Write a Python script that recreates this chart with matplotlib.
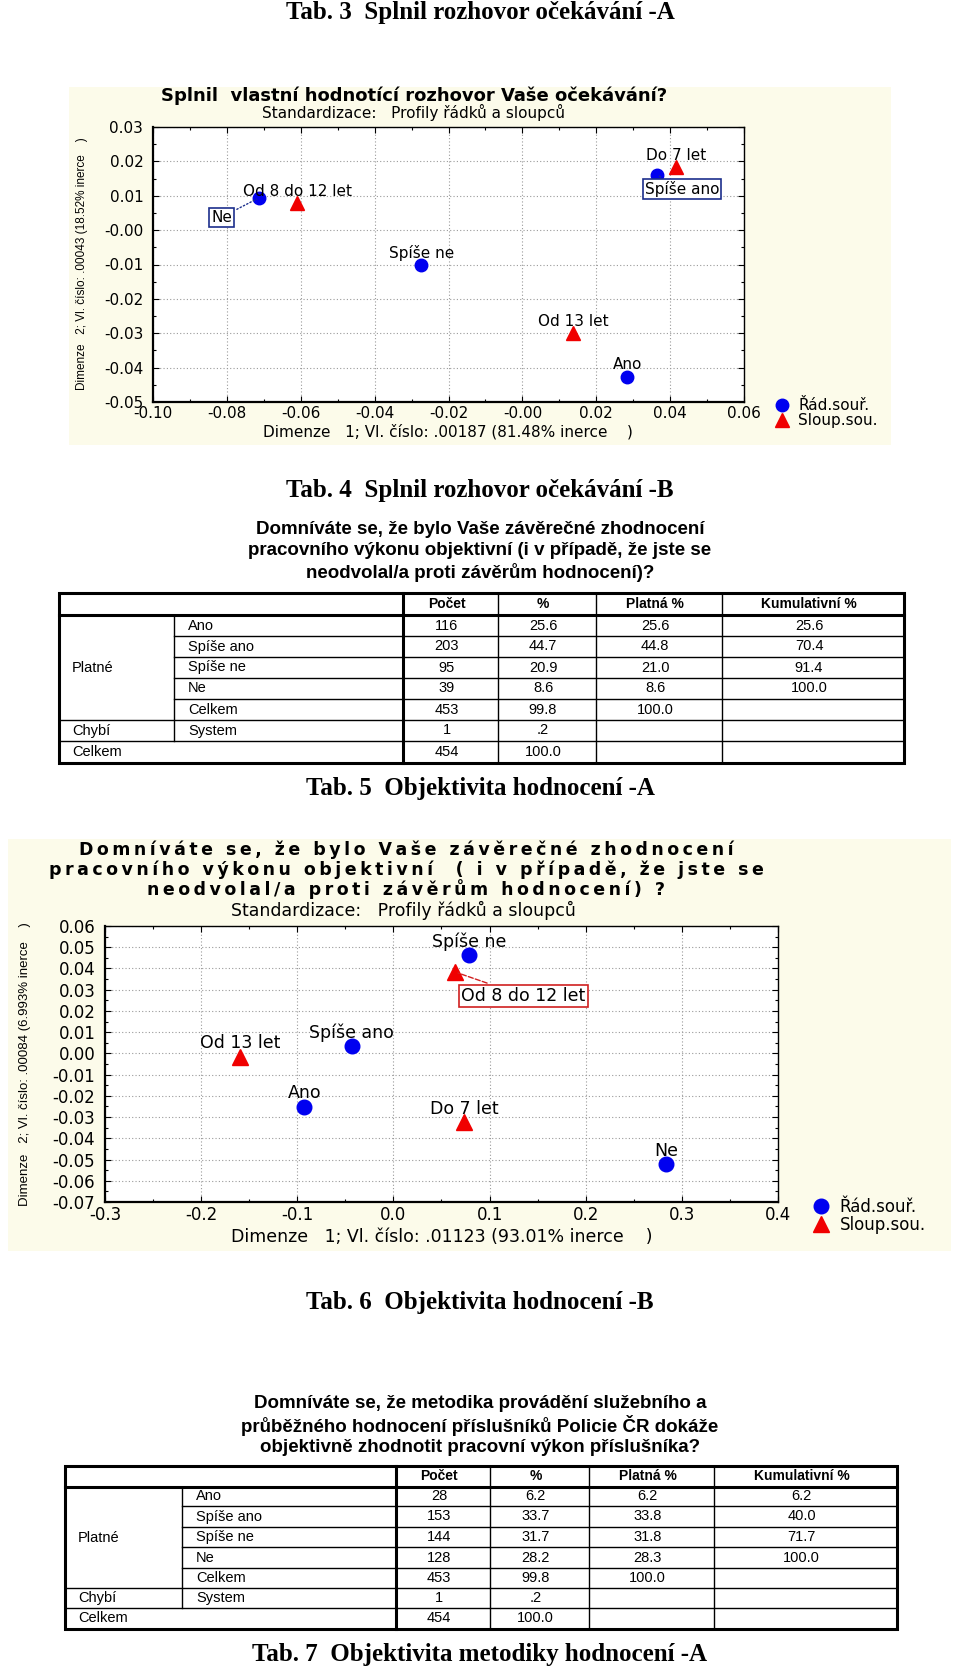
import matplotlib
matplotlib.use('Agg')
import matplotlib.pyplot as plt
from matplotlib.patches import Rectangle
from matplotlib.ticker import MultipleLocator, AutoMinorLocator, FormatStrFormatter

plt.rcParams['axes.unicode_minus'] = False
plt.rcParams['font.family'] = ['DejaVu Sans']

W, H = 960, 1672

# --- chart 1 (Tab. 3): korespondencni analyza ---
rows1 = ['Ano', 'Spíše ano', 'Spíše ne', 'Ne']
rows1_x = [0.0284, 0.0364, -0.0274, -0.0713]
rows1_y = [-0.0426, 0.0161, -0.0101, 0.0094]
cols1 = ['Do 7 let', 'Od 8 do 12 let', 'Od 13 let']
cols1_x = [0.0415, -0.0609, 0.0138]
cols1_y = [0.0184, 0.0079, -0.0300]

# --- chart 2 (Tab. 5) ---
rows2 = ['Ano', 'Spíše ano', 'Spíše ne', 'Ne']
rows2_x = [-0.0926, -0.0435, 0.0784, 0.2839]
rows2_y = [-0.0251, 0.0036, 0.0463, -0.0523]
cols2 = ['Do 7 let', 'Od 8 do 12 let', 'Od 13 let']
cols2_x = [0.0733, 0.0644, -0.1596]
cols2_y = [-0.0323, 0.0383, -0.0015]

# --- tables ---
tab_head = ['Počet', '%', 'Platná %', 'Kumulativní %']
row_names = ['Ano', 'Spíše ano', 'Spíše ne', 'Ne', 'Celkem', 'System']
t1_data = [['116', '25.6', '25.6', '25.6'],
           ['203', '44.7', '44.8', '70.4'],
           ['95', '20.9', '21.0', '91.4'],
           ['39', '8.6', '8.6', '100.0'],
           ['453', '99.8', '100.0', ''],
           ['1', '.2', '', ''],
           ['454', '100.0', '', '']]
t2_data = [['28', '6.2', '6.2', '6.2'],
           ['153', '33.7', '33.8', '40.0'],
           ['144', '31.7', '31.8', '71.7'],
           ['128', '28.2', '28.3', '100.0'],
           ['453', '99.8', '100.0', ''],
           ['1', '.2', '', ''],
           ['454', '100.0', '', '']]

q1 = ['Domníváte se, že bylo Vaše závěrečné zhodnocení',
      'pracovního výkonu objektivní (i v případě, že jste se',
      'neodvolal/a proti závěrům hodnocení)?']
q2 = ['Domníváte se, že metodika provádění služebního a',
      'průběžného hodnocení příslušníků Policie ČR dokáže',
      'objektivně zhodnotit pracovní výkon příslušníka?']

PANEL = '#fcfbea'
BLUE = '#0000f0'
RED = '#f00000'


def box(l, t, r, b):
    return [l / W, 1 - b / H, (r - l) / W, (b - t) / H]


fig = plt.figure(figsize=(9.6, 16.72), dpi=100)
page = fig.add_axes([0, 0, 1, 1], zorder=0)
page.set_xlim(0, W)
page.set_ylim(H, 0)
page.axis('off')

serif = dict(family='Liberation Serif', weight='bold', fontsize=18, ha='center', va='center')
arial = ['Liberation Sans', 'DejaVu Sans']
narrow = ['Liberation Sans Narrow', 'Liberation Sans', 'DejaVu Sans']

page.text(480, 13, 'Tab. 3  Splnil rozhovor očekávání -A', **serif)
page.text(480, 491, 'Tab. 4  Splnil rozhovor očekávání -B', **serif)
page.text(480, 789, 'Tab. 5  Objektivita hodnocení -A', **serif)
page.text(480, 1302, 'Tab. 6  Objektivita hodnocení -B', **serif)
page.text(480, 1655, 'Tab. 7  Objektivita metodiky hodnocení -A', **serif)

# chart panels
page.add_patch(Rectangle((69, 87), 822, 358, fc=PANEL, ec='none'))
page.add_patch(Rectangle((8, 839), 943, 412, fc=PANEL, ec='none'))


def style_axes(ax, xlim, ylim, xstep, ystep, xfmt, yfmt, fs):
    ax.set_xlim(*xlim)
    ax.set_ylim(*ylim)
    ax.xaxis.set_major_locator(MultipleLocator(xstep))
    ax.yaxis.set_major_locator(MultipleLocator(ystep))
    ax.xaxis.set_minor_locator(AutoMinorLocator(2))
    ax.yaxis.set_minor_locator(AutoMinorLocator(2))
    ax.xaxis.set_major_formatter(FormatStrFormatter(xfmt))
    ax.yaxis.set_major_formatter(FormatStrFormatter(yfmt))
    ax.grid(True, which='major', color='#9a9a9a', linestyle=(0, (1, 2)), linewidth=0.8)
    ax.tick_params(which='both', direction='in', top=True, right=True, labelsize=fs, width=0.8)
    ax.tick_params(which='major', length=4)
    ax.tick_params(which='minor', length=2.5)
    ax.tick_params(axis='y', pad=7)
    ax.tick_params(axis='x', pad=3)
    for s in ax.spines.values():
        s.set_linewidth(1.0)
    ax.spines['left'].set_linewidth(1.6)
    ax.spines['bottom'].set_linewidth(1.6)
    ax.set_facecolor('white')
    ax.set_axisbelow(True)


# ---------------- chart 1 ----------------
ax1 = fig.add_axes(box(153, 127, 744, 402), zorder=2)
style_axes(ax1, (-0.10, 0.06), (-0.05, 0.03), 0.02, 0.01, '%.2f', '%.2f', 11)
h_r1, = ax1.plot(rows1_x, rows1_y, 'o', color=BLUE, ms=9, ls='none', label='Řád.souř.')
h_c1, = ax1.plot(cols1_x, cols1_y, '^', color=RED, ms=10, ls='none', label='Sloup.sou.')

boxed1 = {'Ne': (-27, -14), 'Spíše ano': (18, -10)}
for name, x, y in zip(rows1, rows1_x, rows1_y):
    if name in boxed1:
        ax1.annotate(name, (x, y), xytext=boxed1[name], textcoords='offset points',
                     ha='center', va='center', fontsize=11,
                     bbox=dict(boxstyle='square,pad=0.12', fc='white', ec='#1c2f8c', lw=1.2),
                     arrowprops=dict(arrowstyle='-', ls=':', color='#1c2f8c', lw=1))
    else:
        ax1.annotate(name, (x, y), xytext=(0, 8.5), textcoords='offset points',
                     ha='center', va='center', fontsize=11)
for name, x, y in zip(cols1, cols1_x, cols1_y):
    ax1.annotate(name, (x, y), xytext=(0, 8.5), textcoords='offset points',
                 ha='center', va='center', fontsize=11)

page.text(414, 96, 'Splnil  vlastní hodnotící rozhovor Vaše očekávání?',
          fontsize=13, weight='bold', ha='center', va='center')
page.text(413, 112, 'Standardizace:   Profily řádků a sloupců', fontsize=11,
          ha='center', va='center')
page.text(448, 432, 'Dimenze   1; Vl. číslo: .00187 (81.48% inerce    )', fontsize=11,
          ha='center', va='center')
page.text(82, 264, 'Dimenze   2; Vl. číslo: .00043 (18.52% inerce    )', family=narrow,
          fontsize=8.5, rotation=90, ha='center', va='center')
ax1.legend(handles=[h_r1, h_c1], loc='upper left', bbox_to_anchor=(774 / W, 1 - 398 / H),
           bbox_transform=fig.transFigure, frameon=False, fontsize=11, handlelength=1,
           handletextpad=0.6, labelspacing=0.0, borderpad=0, borderaxespad=0)


# ---------------- tables ----------------
def draw_table(ys, xs, data, title_lines, title_y):
    for i, line in enumerate(title_lines):
        page.text(480, title_y + i * 21.5, line, family=arial, weight='bold', fontsize=13.5,
                  ha='center', va='center')
    thick, thin = 2.2, 1.0
    x0, x1, x2, x3, x4, x5, x6 = xs
    top, hb = ys[0], ys[1]
    bot = ys[-1]
    page.add_patch(Rectangle((x0, top), x6 - x0, bot - top, fc='none', ec='black', lw=thick))
    page.plot([x0, x6], [hb, hb], color='black', lw=thick)
    page.plot([x2, x2], [top, bot], color='black', lw=thick)
    for xv in (x3, x4, x5):
        page.plot([xv, xv], [top, bot], color='black', lw=thin)
    page.plot([x1, x1], [hb, ys[7]], color='black', lw=thin)
    for yv in ys[2:6]:
        page.plot([x1, x6], [yv, yv], color='black', lw=thin)
    for yv in ys[6:8]:
        page.plot([x0, x6], [yv, yv], color='black', lw=thin)
    col_mid = [(a + b) / 2 - 4 for a, b in zip(xs[2:6], xs[3:7])]
    for cm, head in zip(col_mid, tab_head):
        page.text(cm, (top + hb) / 2, head, family=arial, weight='bold', fontsize=10,
                  ha='center', va='center')
    mids = [(a + b) / 2 for a, b in zip(ys[1:-1], ys[2:])]
    for r, (ym, vals) in enumerate(zip(mids, data)):
        if r < len(row_names):
            page.text(x1 + 14, ym, row_names[r], family=arial, fontsize=10.5, ha='left', va='center')
        for cm, v in zip(col_mid, vals):
            page.text(cm, ym, v, family=arial, fontsize=10.5, ha='center', va='center')
    page.text(x0 + 13, (ys[1] + ys[6]) / 2, 'Platné', family=arial, fontsize=10.5, ha='left', va='center')
    page.text(x0 + 13, mids[5], 'Chybí', family=arial, fontsize=10.5, ha='left', va='center')
    page.text(x0 + 13, mids[6], 'Celkem', family=arial, fontsize=10.5, ha='left', va='center')


draw_table([593, 615, 636, 657, 678, 699, 720, 741, 763],
           [59, 174, 403, 498, 596, 722, 904], t1_data, q1, 529)

# ---------------- chart 2 ----------------
ax2 = fig.add_axes(box(105, 926, 778, 1202), zorder=2)
style_axes(ax2, (-0.3, 0.4), (-0.07, 0.06), 0.1, 0.01, '%.1f', '%.2f', 12)
h_r2, = ax2.plot(rows2_x, rows2_y, 'o', color=BLUE, ms=10.5, ls='none', label='Řád.souř.')
h_c2, = ax2.plot(cols2_x, cols2_y, '^', color=RED, ms=11, ls='none', label='Sloup.sou.')
for name, x, y in zip(rows2, rows2_x, rows2_y):
    ax2.annotate(name, (x, y), xytext=(0, 9.5), textcoords='offset points',
                 ha='center', va='center', fontsize=12.5)
for name, x, y in zip(cols2, cols2_x, cols2_y):
    if name == 'Od 8 do 12 let':
        ax2.annotate(name, (x, y), xytext=(49, -17), textcoords='offset points',
                     ha='center', va='center', fontsize=12.5,
                     bbox=dict(boxstyle='square,pad=0.12', fc='white', ec='#d02020', lw=1.2),
                     arrowprops=dict(arrowstyle='-', ls='--', color='#d02020', lw=1))
    else:
        ax2.annotate(name, (x, y), xytext=(0, 9.5), textcoords='offset points',
                     ha='center', va='center', fontsize=12.5)

t2_lines = ['Domníváte se, že bylo Vaše závěrečné zhodnocení',
            'pracovního výkonu objektivní  ( i v případě, že jste se',
            'neodvolal/a proti závěrům hodnocení) ?']
for i, line in enumerate(t2_lines):
    page.text(406, 850 + i * 19.5, '\u2009'.join(line), fontsize=12.5, weight='bold',
              ha='center', va='center')
page.text(403, 910, 'Standardizace:   Profily řádků a sloupců', fontsize=12.5,
          ha='center', va='center')
page.text(442, 1237, 'Dimenze   1; Vl. číslo: .01123 (93.01% inerce    )', fontsize=12.5,
          ha='center', va='center')
page.text(25, 1064, 'Dimenze   2; Vl. číslo: .00084 (6.993% inerce    )', family=narrow,
          fontsize=9.5, rotation=90, ha='center', va='center')
ax2.legend(handles=[h_r2, h_c2], loc='upper left', bbox_to_anchor=(813 / W, 1 - 1198 / H),
           bbox_transform=fig.transFigure, frameon=False, fontsize=12, handlelength=1,
           handletextpad=0.6, labelspacing=0.0, borderpad=0, borderaxespad=0)

# ---------------- table 2 ----------------
draw_table([1466, 1487, 1506, 1527, 1547, 1568, 1588, 1608, 1629],
           [65, 182, 396, 490, 589, 714, 897], t2_data, q2, 1404)

fig.savefig('out.png', dpi=100)
